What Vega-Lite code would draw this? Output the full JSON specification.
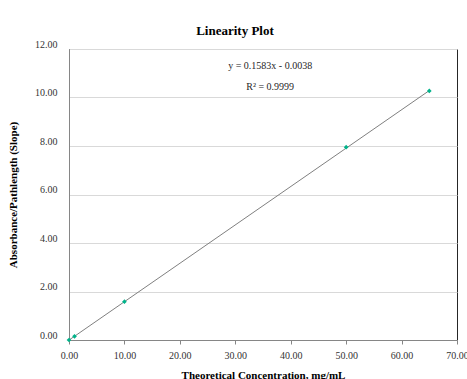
{
  "$schema": "https://vega.github.io/schema/vega-lite/v6.json",
  "width": 388,
  "height": 291,
  "autosize": "none",
  "padding": {"left": 69, "top": 49, "right": 10, "bottom": 39},
  "background": "white",
  "config": {
    "font": "Liberation Serif",
    "view": {"stroke": "#262626", "strokeWidth": 1}
  },
  "title": {
    "text": "Linearity Plot",
    "fontSize": 13,
    "font": "Liberation Serif",
    "fontWeight": "bold",
    "color": "black",
    "anchor": "middle",
    "offset": 1,
    "dx": -28
  },
  "datasets": {
    "points": [
      {"conc": 0, "abs": 0},
      {"conc": 1, "abs": 0.15},
      {"conc": 10, "abs": 1.58},
      {"conc": 50, "abs": 7.95},
      {"conc": 65, "abs": 10.27}
    ],
    "trend": [
      {"conc": 0, "abs": -0.0038},
      {"conc": 65, "abs": 10.286}
    ],
    "labels": [
      {"conc": 36.3, "abs": 11.3, "label": "y = 0.1583x - 0.0038"},
      {"conc": 36.3, "abs": 10.45, "label": "R² = 0.9999"}
    ]
  },
  "layer": [
    {
      "data": {"name": "trend"},
      "mark": {"type": "line", "color": "#808080", "strokeWidth": 1},
      "encoding": {
        "x": {
          "field": "conc", "type": "quantitative",
          "scale": {"domain": [0, 70], "nice": false},
          "axis": {
            "title": "Theoretical Concentration, mg/mL",
            "titleFontSize": 11, "titleFontWeight": "bold", "titleColor": "black",
            "titlePadding": 9,
            "values": [0, 10, 20, 30, 40, 50, 60, 70],
            "format": ".2f",
            "labelFontSize": 10, "labelColor": "#333333", "labelPadding": 6,
            "grid": false,
            "domainColor": "#868686", "tickColor": "#868686", "tickSize": 4,
            "labelFlush": false
          }
        },
        "y": {
          "field": "abs", "type": "quantitative",
          "scale": {"domain": [0, 12], "nice": false},
          "axis": {
            "title": "Absorbance/Pathlength (Slope)",
            "titleFontSize": 11, "titleFontWeight": "bold", "titleColor": "black",
            "titlePadding": 16,
            "values": [0, 2, 4, 6, 8, 10, 12],
            "format": ".2f",
            "labelFontSize": 10, "labelColor": "#333333", "labelPadding": 12,
            "grid": true, "gridColor": "#d9d9d9",
            "domainColor": "#868686", "tickSize": 0,
            "labelBaseline": "bottom"
          }
        }
      }
    },
    {
      "data": {"name": "points"},
      "mark": {"type": "point", "shape": "diamond", "filled": true, "color": "#00b38a", "size": 22, "opacity": 1, "clip": false},
      "encoding": {
        "x": {"field": "conc", "type": "quantitative"},
        "y": {"field": "abs", "type": "quantitative"}
      }
    },
    {
      "data": {"name": "labels"},
      "mark": {"type": "text", "fontSize": 10, "color": "#262626", "align": "center", "baseline": "middle"},
      "encoding": {
        "x": {"field": "conc", "type": "quantitative"},
        "y": {"field": "abs", "type": "quantitative"},
        "text": {"field": "label"}
      }
    }
  ]
}
